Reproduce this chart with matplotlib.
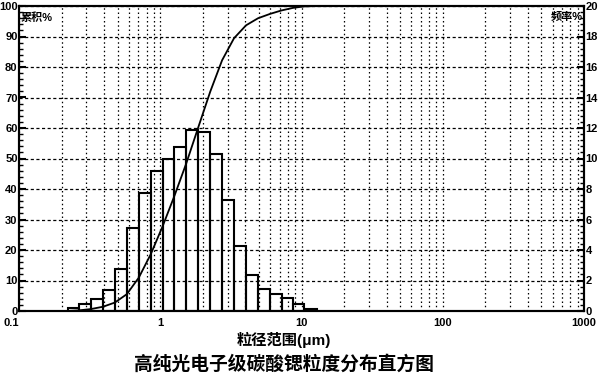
import matplotlib
matplotlib.use('Agg')
import matplotlib.pyplot as plt
import numpy as np
from matplotlib.ticker import FixedLocator, LogLocator, MultipleLocator, NullFormatter

plt.rcParams['font.family'] = ['Liberation Sans', 'Noto Sans CJK SC', 'DejaVu Sans']
plt.rcParams['font.weight'] = 'bold'

# particle size bin edges (um)
bin_edges = [0.222, 0.265, 0.323, 0.393, 0.477, 0.580, 0.705, 0.857, 1.04, 1.26,
             1.53, 1.86, 2.26, 2.74, 3.33, 4.05, 4.93, 5.99, 7.22, 8.71, 10.4, 12.8]
# frequency (%) of each bin
freq = [0.20, 0.44, 0.76, 1.38, 2.76, 5.46, 7.72, 9.20, 10.00, 10.76, 11.86,
        11.72, 10.30, 7.28, 4.24, 2.34, 1.42, 1.14, 0.84, 0.48, 0.14]

xtick_vals = [0.1, 1, 10, 100, 1000]
xtick_labels = ['0.1', '1', '10', '100', '1000']

edges = np.array(bin_edges)
freq_a = np.array(freq)
cum = np.cumsum(freq_a) / freq_a.sum() * 100

fig = plt.figure(figsize=(6, 3.8), dpi=100)
fig.patch.set_facecolor('white')
ax = fig.add_axes([19 / 600, 1 - 311 / 380, (584 - 19) / 600, (311 - 6) / 380])
ax.set_xscale('log')
ax.set_xlim(0.1, 1000)
ax.set_ylim(0, 20)

ax.bar(edges[:-1], freq_a, width=np.diff(edges), align='edge', fill=False,
       edgecolor='black', linewidth=1.5, zorder=3)

ax_c = ax.twinx()
ax_c.set_ylim(0, 100)
ax_c.plot(np.r_[edges[0], edges[1:]], np.r_[0, cum], color='black', lw=1.3, zorder=5)

# grid
ax.xaxis.set_major_locator(FixedLocator(xtick_vals))
ax.set_xticklabels(xtick_labels)
ax.xaxis.set_minor_locator(LogLocator(base=10, subs=range(2, 10)))
ax.xaxis.set_minor_formatter(NullFormatter())
ax.yaxis.set_major_locator(MultipleLocator(2))
ax.yaxis.set_minor_locator(MultipleLocator(0.4))
ax.grid(axis='x', which='both', linestyle=(0, (1.2, 2.2)), color='black', linewidth=0.9)
ax.grid(axis='y', which='major', linestyle=(0, (2.5, 2)), color='black', linewidth=0.9)
ax.set_axisbelow(False)

# frequency axis on the right, cumulative on the left
ax.yaxis.tick_right()
ax_c.yaxis.tick_left()
ax.tick_params(axis='x', which='both', length=0, pad=5, labelsize=8)
ax.tick_params(axis='y', which='major', direction='in', length=5, width=1.5,
               pad=1, labelsize=8, left=False, labelleft=False,
               right=True, labelright=True)
ax.tick_params(axis='y', which='minor', direction='in', length=3, width=1,
               left=False, right=True)

ax_c.yaxis.set_major_locator(MultipleLocator(10))
ax_c.yaxis.set_minor_locator(MultipleLocator(2))
ax_c.tick_params(axis='y', which='major', direction='in', length=5, width=1.5,
                 pad=1, labelsize=8, left=True, labelleft=True,
                 right=False, labelright=False)
ax_c.tick_params(axis='y', which='minor', direction='in', length=3, width=1,
                 left=True, right=False)
for a in (ax, ax_c):
    for s in a.spines.values():
        s.set_linewidth(1.5)

# first x label sits left of the axis corner as in the reference
ax.get_xticklabels()[0].set_horizontalalignment('right')

ax_c.text(0.003, 0.98, '累积%', transform=ax_c.transAxes, ha='left', va='top',
          fontsize=8, fontweight='bold')
ax_c.text(0.997, 0.98, '频率%', transform=ax_c.transAxes, ha='right', va='top',
          fontsize=8, fontweight='bold')

fig.text(284 / 600, 1 - 340 / 380, '粒径范围(μm)', ha='center', va='center',
         fontsize=11, fontweight='bold')
fig.text(284 / 600, 1 - 364 / 380, '高纯光电子级碳酸锶粒度分布直方图', ha='center',
         va='center', fontsize=13.5, fontweight='bold')

fig.savefig('out.png', dpi=100, facecolor='white')
